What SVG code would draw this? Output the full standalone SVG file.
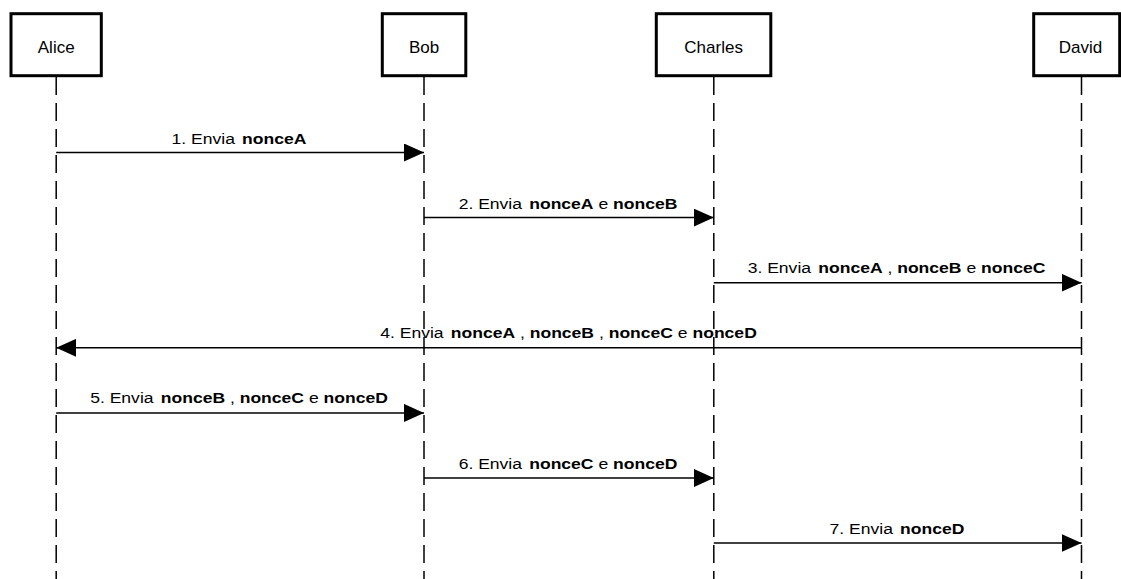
<svg xmlns="http://www.w3.org/2000/svg" width="1121" height="579" viewBox="0 0 1121 579">
<style>
.box{fill:#fff;stroke:#000;stroke-width:3}
.life{stroke:#000;stroke-width:1.5;stroke-dasharray:18 8;fill:none}
.name{font-family:"Liberation Sans",Arial,sans-serif;font-size:17px;fill:#000;text-anchor:middle}
.msg{stroke:#000;stroke-width:1.5;fill:none;marker-end:url(#ah)}
.lbl{font-family:"Liberation Sans",Arial,sans-serif;font-size:15px;fill:#000;text-anchor:middle}
.b{font-weight:bold}
</style>
<defs>
<marker id="ah" markerUnits="userSpaceOnUse" markerWidth="20" markerHeight="18" viewBox="0 0 20 18" refX="20" refY="9" orient="auto">
<path d="M0,0 L20,9 L0,18 z" fill="#000"/>
</marker>
</defs>
<rect width="1121" height="579" fill="#fff"/>
<g id="lifelines">
<line class="life" x1="56.2" y1="77" x2="56.2" y2="579"/>
<line class="life" x1="424" y1="77" x2="424" y2="579"/>
<line class="life" x1="713.8" y1="77" x2="713.8" y2="579"/>
<line class="life" x1="1081.5" y1="77" x2="1081.5" y2="579"/>
</g>
<g id="alice"><rect class="box" x="11" y="13.7" width="90.3" height="62"/><text class="name" x="56.2" y="52.5">Alice</text></g>
<g id="bob"><rect class="box" x="382.3" y="13.7" width="83.5" height="62"/><text class="name" x="424" y="52.5">Bob</text></g>
<g id="charles"><rect class="box" x="656.3" y="13.7" width="114.5" height="62"/><text class="name" x="713.6" y="52.5">Charles</text></g>
<g id="david"><rect class="box" x="1033.7" y="13.7" width="86" height="62"/><text class="name" x="1080.5" y="52.5">David</text></g>
<g id="connectors">
<line class="msg" x1="56.2" y1="152.5" x2="424" y2="152.5"/>
<line class="msg" x1="424" y1="217.6" x2="713.8" y2="217.6"/>
<line class="msg" x1="713.8" y1="282.7" x2="1081.5" y2="282.7"/>
<line class="msg" x1="1081.5" y1="347.8" x2="56.2" y2="347.8"/>
<line class="msg" x1="56.2" y1="412.9" x2="424" y2="412.9"/>
<line class="msg" x1="424" y1="478" x2="713.8" y2="478"/>
<line class="msg" x1="713.8" y1="543.1" x2="1081.5" y2="543.1"/>
</g>
<g id="labels">
<g transform="translate(239,143.5) scale(1.17,1)"><text class="lbl">1. Envia <tspan class="b" dx="2">nonceA</tspan></text></g>
<g transform="translate(568,208.6) scale(1.17,1)"><text class="lbl">2. Envia <tspan class="b" dx="2">nonceA</tspan> e <tspan class="b">nonceB</tspan></text></g>
<g transform="translate(896.5,273.2) scale(1.17,1)"><text class="lbl">3. Envia <tspan class="b" dx="2">nonceA</tspan> , <tspan class="b">nonceB</tspan> e <tspan class="b">nonceC</tspan></text></g>
<g transform="translate(568.5,338.3) scale(1.17,1)"><text class="lbl">4. Envia <tspan class="b" dx="2">nonceA</tspan> , <tspan class="b">nonceB</tspan> , <tspan class="b">nonceC</tspan> e <tspan class="b">nonceD</tspan></text></g>
<g transform="translate(239,403.4) scale(1.17,1)"><text class="lbl">5. Envia <tspan class="b" dx="2">nonceB</tspan> , <tspan class="b">nonceC</tspan> e <tspan class="b">nonceD</tspan></text></g>
<g transform="translate(568,468.5) scale(1.17,1)"><text class="lbl">6. Envia <tspan class="b" dx="2">nonceC</tspan> e <tspan class="b">nonceD</tspan></text></g>
<g transform="translate(897,533.6) scale(1.17,1)"><text class="lbl">7. Envia <tspan class="b" dx="2">nonceD</tspan></text></g>
</g>
</svg>
